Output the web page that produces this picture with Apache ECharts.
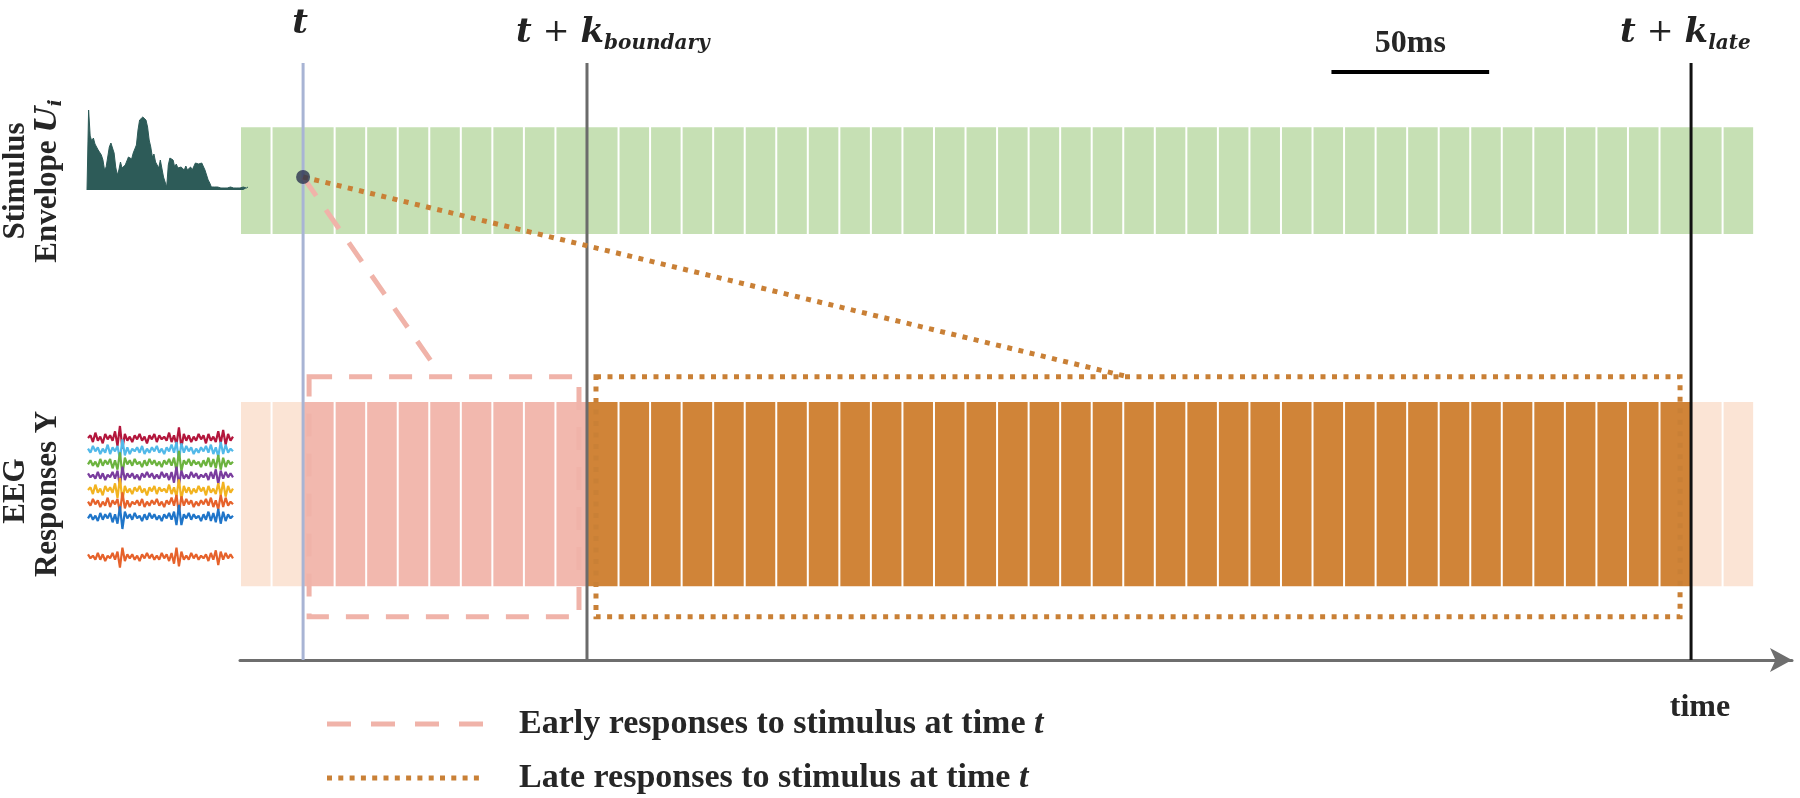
<!DOCTYPE html>
<html>
<head>
<meta charset="utf-8">
<style>
  html, body { margin: 0; padding: 0; background: #fff; }
  #chart { width: 1800px; height: 798px; }
</style>
<script src="https://cdn.jsdelivr.net/npm/echarts@6/dist/echarts.min.js"></script>
</head>
<body>
<div id="chart"></div>
<script>
// time bins of 10 ms (50 ms = 5 bins)
var cellCount = 48;
var markerAt = [2, 11, 46];
var markerMain = ['t', 't', 't'];
var markerSub = ['', 'boundary', 'late'];
var earlyRange = [2, 11];
var lateRange = [11, 46];
var earlyLinkEnd = [6.1, 49.5];
var lateLinkEnd = [28.15, 47.2];
var scaleBar = [34.6, 39.6];
var scaleText = '50ms';

// stimulus envelope (px height above baseline)
var envelope = [0, 80, 54, 49, 52, 46, 43, 40, 38, 35, 30, 20, 23, 33, 43, 47, 45, 37, 23, 15, 20, 28, 22, 20,
  25, 27, 33, 35, 31, 37, 38, 45, 60, 70, 68, 73, 75, 70, 63, 50, 43, 33, 36, 28, 27, 22, 30, 32, 13, 8, 3,
  25, 32, 33, 30, 23, 26, 22, 20, 23, 22, 20, 24, 20, 22, 23, 20, 22, 27, 28, 26, 28, 27, 25, 20, 15, 10,
  7, 3, 2, 3, 2, 3, 2, 2, 3, 2, 3, 2, 2, 3, 2, 2, 3, 2, 3, 2, 2, 3, 2, 2, 3];

// EEG channel traces
var eegA = [0, 2, -3, 4, -2, 1, -4, 3, -1, 2, -2, 5, -6, 9, -8, 3, -2, 1, -3, 2, -1, 3, -2, 1, -4, 2, -1, 3, -3, 2,
  -1, 1, -2, 4, -3, 2, -5, 8, -7, 3, -2, 2, -3, 1, -2, 3, -1, 2, -4, 3, -2, 1, -3, 5, -4, 6, -5, 3, -2, 1];
var eegB = [1, -2, 3, -1, 2, -3, 1, -2, 4, -3, 2, -1, 3, -7, 8, -4, 2, -3, 1, -1, 2, -2, 3, -3, 1, -2, 2, -1, 3, -2,
  1, -3, 2, -1, 4, -2, 6, -8, 5, -2, 3, -1, 2, -3, 1, -2, 2, -1, 3, -2, 4, -3, 2, -5, 6, -3, 4, -2, 1, -1];
var eegC = [-1, 2, -2, 1, -3, 3, -2, 2, -1, 3, -4, 2, -5, 8, -9, 4, -1, 2, -2, 3, -1, 1, -3, 2, -2, 3, -1, 2, -2, 1,
  -3, 2, -1, 3, -2, 4, -6, 9, -6, 2, -1, 3, -2, 2, -1, 1, -3, 2, -2, 4, -3, 3, -4, 6, -5, 4, -3, 2, -1, 1];
var eegD = [2, -1, 1, -2, 3, -2, 2, -3, 1, -1, 3, -2, 4, -8, 7, -3, 2, -1, 2, -2, 1, -3, 2, -1, 3, -1, 2, -2, 1, -2,
  3, -1, 2, -3, 3, -5, 7, -7, 4, -2, 1, -2, 3, -1, 2, -2, 1, -1, 2, -3, 3, -2, 5, -6, 4, -2, 3, -1, 2, -1];
var eegChannels = [eegA, eegB, eegC, eegD, eegA, eegB, eegC, eegD];

// layout (main grid y axis: 0..100, 6 px per unit)
var stimBand = [71, 88.8];
var eegBand = [12.3, 43];
var boxBand = [7.2, 47.2];
var dotY = 80.5;
var lineTop = 99.5;
var eegRowY = [438, 450, 463, 476, 490, 503, 517, 557];
var eegColors = ['#b3163c', '#52b9e9', '#6cb33f', '#7a3d9e', '#f2b320', '#e6622b', '#1f75c9', '#e6622b'];
var markerColors = ['#a8b4d4', '#6b6b6b', '#111111'];
var serif = '"Liberation Serif", "Times New Roman", serif';
var mathFont = '"DejaVu Serif", serif';

var cells = [];
for (var c = 0; c < cellCount; c++) cells.push([c]);

function cellRender(band, colorOf) {
  return function (params, api) {
    var i = api.value(0);
    var p0 = api.coord([i, band[1]]);
    var p1 = api.coord([i + 1, band[0]]);
    return {
      type: 'rect',
      shape: { x: p0[0] + 1, y: p0[1], width: p1[0] - p0[0] - 2, height: p1[1] - p0[1] },
      style: { fill: colorOf(i) }
    };
  };
}

function eegColor(i) {
  if (i >= earlyRange[0] && i < earlyRange[1]) return '#f2b8ae';
  if (i >= lateRange[0] && i < lateRange[1]) return '#d08438';
  return '#fbe4d5';
}

function boxRender(range, inset, color, dash) {
  return function (params, api) {
    var p0 = api.coord([range[0], boxBand[1]]);
    var p1 = api.coord([range[1], boxBand[0]]);
    return {
      type: 'rect',
      shape: { x: p0[0] + inset[0], y: p0[1], width: p1[0] - p0[0] - inset[0] - inset[1], height: p1[1] - p0[1] },
      style: { fill: 'none', stroke: color, lineWidth: 5, lineDash: dash }
    };
  };
}

var grids = [
  { left: 240, top: 60, width: 1552, height: 600 },
  { left: 87, top: 110, width: 161, height: 80 }
];
var xAxes = [
  {
    type: 'value', gridIndex: 0, min: 0, max: 49.2,
    axisLine: { show: true, symbol: ['none', 'arrow'], symbolSize: [18, 22], lineStyle: { color: '#6e6e6e', width: 3 } },
    axisTick: { show: false }, axisLabel: { show: false }, splitLine: { show: false }
  },
  { type: 'value', gridIndex: 1, min: 0, max: envelope.length - 1, show: false }
];
var yAxes = [
  { type: 'value', gridIndex: 0, min: 0, max: 100, show: false },
  { type: 'value', gridIndex: 1, min: 0, max: 80, show: false }
];

var series = [
  {
    type: 'custom', xAxisIndex: 0, yAxisIndex: 0, z: 1, data: cells,
    renderItem: cellRender(stimBand, function () { return '#c6e0b4'; })
  },
  {
    type: 'custom', xAxisIndex: 0, yAxisIndex: 0, z: 1, data: cells,
    renderItem: cellRender(eegBand, eegColor)
  },
  {
    type: 'custom', xAxisIndex: 0, yAxisIndex: 0, z: 2, data: [[0]],
    renderItem: boxRender(earlyRange, [6, 8], '#f0b3a9', [23, 17])
  },
  {
    type: 'custom', xAxisIndex: 0, yAxisIndex: 0, z: 2, data: [[0]],
    renderItem: boxRender(lateRange, [9, 11], '#c98036', [5, 6.5])
  },
  {
    type: 'custom', xAxisIndex: 0, yAxisIndex: 0, z: 3,
    data: markerAt.map(function (v, i) { return [v, i]; }),
    renderItem: function (params, api) {
      var x = api.value(0), idx = api.value(1);
      var top = api.coord([x, lineTop]);
      var bot = api.coord([x, 0]);
      var children = [{
        type: 'line',
        shape: { x1: top[0], y1: top[1], x2: bot[0], y2: bot[1] },
        style: { stroke: markerColors[idx], lineWidth: 3 }
      }];
      var text = markerSub[idx]
        ? '{m|' + markerMain[idx] + '}{p|+}{m|k}{s|' + markerSub[idx] + '}'
        : '{m|' + markerMain[idx] + '}';
      children.push({
        type: 'text',
        style: {
          text: text,
          x: markerSub[idx] ? top[0] - 71 : top[0] - 3,
          y: markerSub[idx] ? 33 : 24,
          align: markerSub[idx] ? 'left' : 'center',
          verticalAlign: 'middle',
          rich: {
            m: { fontFamily: mathFont, fontWeight: 'bold', fontStyle: 'italic', fontSize: 34, lineHeight: 42, fill: '#222' },
            p: { fontFamily: mathFont, fontSize: 32, lineHeight: 42, padding: [0, 11, 0, 11], fill: '#222' },
            s: { fontFamily: mathFont, fontWeight: 'bold', fontStyle: 'italic', fontSize: 20, lineHeight: 22, verticalAlign: 'bottom', fill: '#222' }
          }
        }
      });
      return { type: 'group', children: children };
    }
  },
  {
    type: 'line', xAxisIndex: 0, yAxisIndex: 0, z: 4, symbol: 'none', silent: true,
    data: [[markerAt[0], dotY], earlyLinkEnd],
    lineStyle: { color: '#f0b3a9', width: 5, type: [23, 17] }
  },
  {
    type: 'line', xAxisIndex: 0, yAxisIndex: 0, z: 4, symbol: 'none', silent: true,
    data: [[markerAt[0], dotY], lateLinkEnd],
    lineStyle: { color: '#c98036', width: 5, type: [5, 6.5] }
  },
  {
    type: 'scatter', xAxisIndex: 0, yAxisIndex: 0, z: 5, symbolSize: 14,
    data: [[markerAt[0], dotY]], itemStyle: { color: '#2c3350' }
  },
  {
    type: 'custom', xAxisIndex: 0, yAxisIndex: 0, z: 3, data: [[0]],
    renderItem: function (params, api) {
      var a = api.coord([scaleBar[0], 98]);
      var b = api.coord([scaleBar[1], 98]);
      return {
        type: 'group',
        children: [
          { type: 'line', shape: { x1: a[0], y1: a[1], x2: b[0], y2: b[1] }, style: { stroke: '#000', lineWidth: 4 } },
          {
            type: 'text',
            style: {
              text: scaleText, x: (a[0] + b[0]) / 2, y: a[1] - 28, align: 'center', verticalAlign: 'middle',
              fontFamily: serif, fontWeight: 'bold', fontSize: 32, fill: '#262626'
            }
          }
        ]
      };
    }
  },
  {
    type: 'line', xAxisIndex: 1, yAxisIndex: 1, symbol: 'none', silent: true,
    data: envelope.map(function (v, i) { return [i, v]; }),
    lineStyle: { color: '#2d5b58', width: 1 },
    areaStyle: { color: '#2d5b58', opacity: 1 }
  }
];

eegChannels.forEach(function (trace, k) {
  grids.push({ left: 88, top: eegRowY[k] - 12, width: 145, height: 24 });
  xAxes.push({ type: 'value', gridIndex: k + 2, min: 0, max: trace.length - 1, show: false });
  yAxes.push({ type: 'value', gridIndex: k + 2, min: -9, max: 9, show: false });
  series.push({
    type: 'line', xAxisIndex: k + 2, yAxisIndex: k + 2, symbol: 'none', silent: true,
    data: trace.map(function (v, i) { return [i, v]; }),
    lineStyle: { color: eegColors[k], width: 2.2 }
  });
});

var chart = echarts.init(document.getElementById('chart'));
chart.setOption({
  animation: false,
  backgroundColor: '#ffffff',
  grid: grids,
  xAxis: xAxes,
  yAxis: yAxes,
  series: series,
  graphic: [
    { type: 'text', x: 16, y: 181, rotation: Math.PI / 2,
      style: { text: 'Stimulus', align: 'center', verticalAlign: 'middle', fontFamily: serif, fontWeight: 'bold', fontSize: 31, fill: '#262626' } },
    { type: 'text', x: 48, y: 181, rotation: Math.PI / 2,
      style: {
        text: '{a|Envelope }{b|U}{c|i}', align: 'center', verticalAlign: 'middle',
        rich: {
          a: { fontFamily: serif, fontWeight: 'bold', fontSize: 31, lineHeight: 36, fill: '#262626' },
          b: { fontFamily: mathFont, fontWeight: 'bold', fontStyle: 'italic', fontSize: 30, lineHeight: 36, fill: '#262626' },
          c: { fontFamily: mathFont, fontWeight: 'bold', fontStyle: 'italic', fontSize: 19, lineHeight: 18, verticalAlign: 'bottom', fill: '#262626' }
        }
      } },
    { type: 'text', x: 16, y: 491, rotation: Math.PI / 2,
      style: { text: 'EEG', align: 'center', verticalAlign: 'middle', fontFamily: serif, fontWeight: 'bold', fontSize: 31, fill: '#262626' } },
    { type: 'text', x: 48, y: 494, rotation: Math.PI / 2,
      style: { text: 'Responses Y', align: 'center', verticalAlign: 'middle', fontFamily: serif, fontWeight: 'bold', fontSize: 31, fill: '#262626' } },
    { type: 'text', x: 1700, y: 708,
      style: { text: 'time', align: 'center', verticalAlign: 'middle', fontFamily: serif, fontWeight: 'bold', fontSize: 32, fill: '#262626' } },
    { type: 'line', shape: { x1: 327, y1: 724, x2: 485, y2: 724 },
      style: { stroke: '#f0b3a9', lineWidth: 5, lineDash: [24, 20] } },
    { type: 'line', shape: { x1: 327, y1: 778, x2: 485, y2: 778 },
      style: { stroke: '#c98036', lineWidth: 5, lineDash: [5, 6.3] } },
    { type: 'text', x: 519, y: 724,
      style: {
        text: '{a|Early responses to stimulus at time }{b|t}', verticalAlign: 'middle',
        rich: {
          a: { fontFamily: serif, fontWeight: 'bold', fontSize: 34, fill: '#262626' },
          b: { fontFamily: serif, fontWeight: 'bold', fontStyle: 'italic', fontSize: 34, fill: '#262626' }
        }
      } },
    { type: 'text', x: 519, y: 778,
      style: {
        text: '{a|Late responses to stimulus at time }{b|t}', verticalAlign: 'middle',
        rich: {
          a: { fontFamily: serif, fontWeight: 'bold', fontSize: 34, fill: '#262626' },
          b: { fontFamily: serif, fontWeight: 'bold', fontStyle: 'italic', fontSize: 34, fill: '#262626' }
        }
      } }
  ]
});
</script>
</body>
</html>
